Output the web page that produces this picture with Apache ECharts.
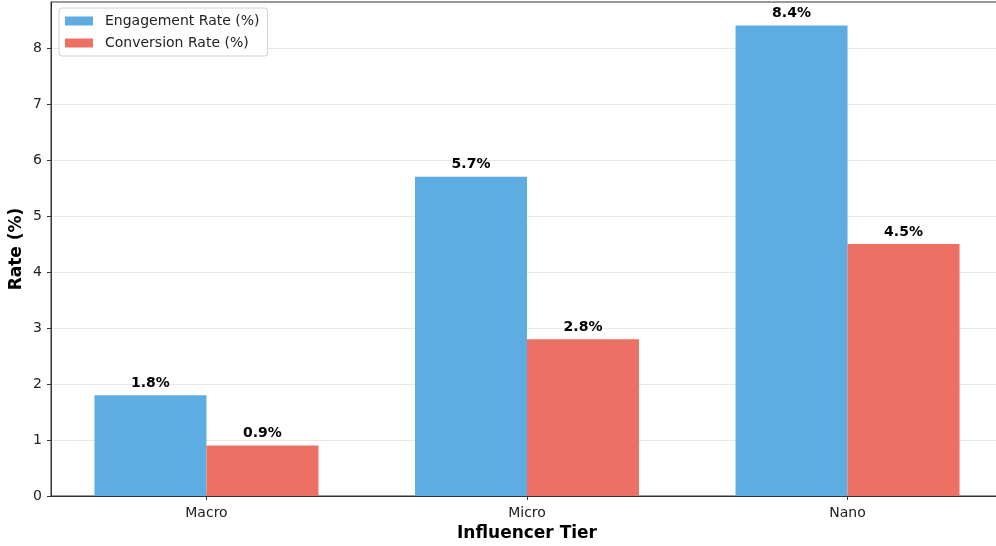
<!DOCTYPE html>
<html>
<head>
<meta charset="utf-8">
<script src="https://cdn.jsdelivr.net/npm/echarts@6/dist/echarts.min.js"></script>
<style>
  html, body { margin: 0; padding: 0; background: #ffffff; overflow: hidden; }
  /* the plot runs a little past the right edge of the window */
  #chart { width: 1012px; height: 546px; }
</style>
</head>
<body>
<div id="chart"></div>
<script>
// Influencer tiers and their rates (%)
const tiers = ['Macro', 'Micro', 'Nano'];
const engagementRate = [1.8, 5.7, 8.4];
const conversionRate = [0.9, 2.8, 4.5];
const yTicks = [0, 1, 2, 3, 4, 5, 6, 7, 8];

const FONT = 'DejaVu Sans';

// bars sit at integer tier positions on a numeric x axis
const toPairs = (vals) => vals.map((v, i) => [i, v]);

const chart = echarts.init(document.getElementById('chart'), null, { renderer: 'canvas' });

const valueLabel = {
  show: true,
  position: 'top',
  distance: 5,
  fontFamily: FONT,
  fontSize: 14,
  fontWeight: 'bold',
  color: '#000',
  formatter: (p) => p.value[1].toFixed(1) + '%'
};

chart.setOption({
  animation: false,
  backgroundColor: '#ffffff',
  grid: {
    left: 51,
    top: 2,
    width: 952,
    height: 494,
    show: true,
    borderColor: '#333',
    borderWidth: 1,
    backgroundColor: 'transparent',
    containLabel: false,
    outerBoundsMode: 'none'
  },
  legend: {
    orient: 'vertical',
    left: 59,
    top: 8,
    padding: [6, 8, 6, 6],
    itemGap: 8,
    itemWidth: 28,
    itemHeight: 9,
    backgroundColor: '#fff',
    borderColor: '#d0d0d0',
    borderWidth: 1,
    borderRadius: 3,
    textStyle: { fontFamily: FONT, fontSize: 14, color: '#222', padding: [0, 0, 0, 7] },
    data: [
      { name: 'Engagement Rate (%)', icon: 'rect' },
      { name: 'Conversion Rate (%)', icon: 'rect' }
    ]
  },
  xAxis: {
    type: 'value',
    min: -0.485,
    max: 2.485,
    name: 'Influencer Tier',
    nameLocation: 'middle',
    nameGap: 29,
    nameMoveOverlap: false,
    nameTextStyle: { fontFamily: FONT, fontSize: 17, fontWeight: 'bold', color: '#000' },
    axisLine: { show: true, onZero: false, lineStyle: { color: '#333', width: 1 } },
    axisTick: { show: true, length: 4, customValues: [0, 1, 2], lineStyle: { color: '#333' } },
    axisLabel: {
      customValues: [0, 1, 2],
      margin: 10,
      fontFamily: FONT,
      fontSize: 14,
      color: '#222',
      formatter: (v) => tiers[Math.round(v)]
    },
    splitLine: { show: false }
  },
  yAxis: {
    type: 'value',
    min: 0,
    max: 8.82,
    name: 'Rate (%)',
    nameLocation: 'middle',
    nameGap: 26,
    nameMoveOverlap: false,
    nameTextStyle: { fontFamily: FONT, fontSize: 17, fontWeight: 'bold', color: '#000' },
    axisLine: { show: true, onZero: false, lineStyle: { color: '#333', width: 1 } },
    axisTick: { show: true, length: 4, customValues: yTicks, lineStyle: { color: '#333' } },
    axisLabel: {
      customValues: yTicks,
      margin: 9,
      fontFamily: FONT,
      fontSize: 14,
      color: '#222'
    },
    splitLine: { show: true, lineStyle: { color: '#e8e8e8', width: 1 } }
  },
  series: [
    {
      name: 'Engagement Rate (%)',
      type: 'bar',
      data: toPairs(engagementRate),
      barWidth: 112,
      barGap: '0%',
      itemStyle: { color: '#5DADE2' },
      label: valueLabel
    },
    {
      name: 'Conversion Rate (%)',
      type: 'bar',
      data: toPairs(conversionRate),
      barWidth: 112,
      barGap: '0%',
      itemStyle: { color: '#EC7063' },
      label: valueLabel
    }
  ]
});
</script>
</body>
</html>
